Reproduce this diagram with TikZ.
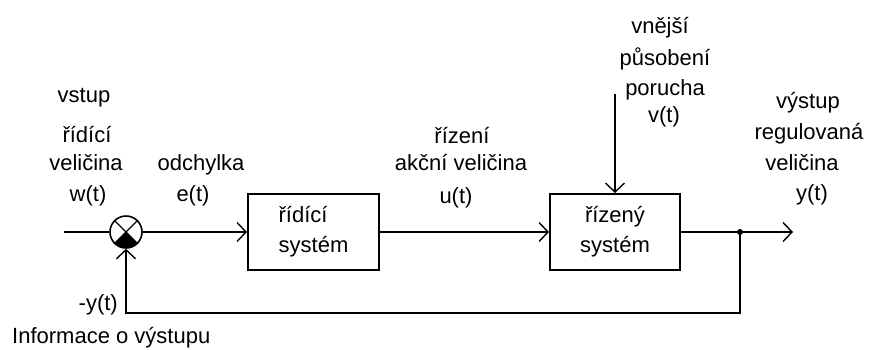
\documentclass[tikz,border=0pt]{standalone}
\usepackage{fontspec}
\setmainfont{Liberation Sans}
\usetikzlibrary{arrows.meta}
\tikzset{
  wire/.style={line width=2pt},
  flow/.style={wire,-{Straight Barb[length=9pt,width=19pt,line width=1.4pt]}},
  blockbox/.style={draw,line width=2pt,minimum height=76pt,inner sep=0pt},
  lbl/.style={inner sep=0pt,anchor=base}
}
\begin{document}
\begin{tikzpicture}[x=1pt,y=-1pt,font=\fontsize{22}{30}\selectfont]
\useasboundingbox (0,0) rectangle (869,349);

% summing junction with the negative (bottom) quadrant filled
\node[circle,draw,line width=1.6pt,minimum size=32pt,inner sep=0pt] (sum) at (126,232) {};
\draw[line width=1.4pt] (sum.north west) -- (sum.south east)
                        (sum.north east) -- (sum.south west);
\fill[shift={(sum.center)},y=1pt] (0,0) -- (225:16) arc[start angle=225,end angle=315,radius=16] -- cycle;

% blocks
\node[blockbox,minimum width=131pt,align=left] (b1) at (313.5,232) {řídící\\systém};
\node[blockbox,minimum width=130pt,align=center] (b2) at (615,232) {řízený\\systém};

% free ends and branch point
\coordinate (in) at (64,232);
\coordinate (out) at (793,232);
\coordinate (br) at (740,232);
\coordinate (dist) at (615,94);
\coordinate (fb) at (740,313);
\fill (br) circle[radius=3];

% connectors
\draw[wire] (in) -- (sum.west);
\draw[flow] (sum.east) -- (b1.west);
\draw[flow] (b1.east) -- (b2.west);
\draw[flow] (b2.east) -- (out);
\draw[flow] (dist) -- (b2.north);
\draw[flow] (br) -- (fb) -| (sum.south);

% labels
\node[lbl] (l1) at (84,102) {vstup};
\node[lbl] (l2) at (87,142) {řídící};
\node[lbl] (l3) at (86,170) {veličina};
\node[lbl] (l4) at (88,201) {w(t)};
\node[lbl] (l5) at (201,170) {odchylka};
\node[lbl] (l6) at (193,201) {e(t)};
\node[lbl] (l7) at (462,143) {řízení};
\node[lbl] (l8) at (461,170) {akční veličina};
\node[lbl] (l9) at (456,203) {u(t)};
\node[lbl] (l10) at (660,33) {vnější};
\node[lbl] (l11) at (665,65) {působení};
\node[lbl] (l12) at (665,95) {porucha};
\node[lbl] (l13) at (664,122) {v(t)};
\node[lbl] (l14) at (808,108) {výstup};
\node[lbl] (l15) at (809,139) {regulovaná};
\node[lbl] (l16) at (802,170) {veličina};
\node[lbl] (l17) at (812,200) {y(t)};
\node[inner sep=0pt,anchor=base east] (l18) at (118,310) {-y(t)};
\node[inner sep=0pt,anchor=base west] (l19) at (12,343) {Informace o výstupu};
\end{tikzpicture}
\end{document}
